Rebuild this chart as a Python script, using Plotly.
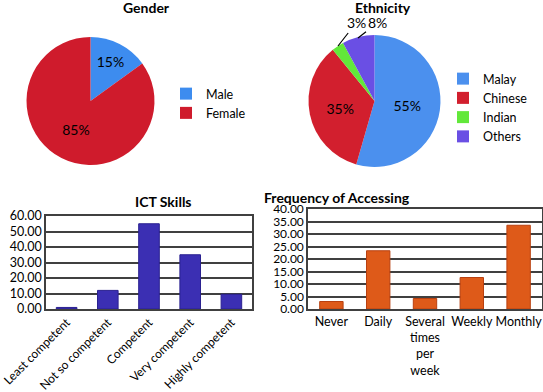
import plotly.graph_objects as go

W, H = 543, 392

gender_labels = ["Male", "Female"]
gender_values = [15, 85]
gender_colors = ["#3d8cef", "#cf1b2c"]

eth_labels = ["Malay", "Chinese", "Indian", "Others"]
eth_values = [55, 35, 3, 8]
eth_colors = ["#4b90ee", "#d21f2e", "#62e83a", "#6a4fe4"]

ict_cats = ["Least competent", "Not so competent", "Competent", "Very competent", "Highly competent"]
ict_values = [1.0, 12.0, 55.0, 35.0, 9.5]
ict_ticks = [0, 10, 20, 30, 40, 50, 60]

freq_cats = ["Never", "Daily", "Several<br>times<br>per<br>week", "Weekly", "Monthly"]
freq_values = [3.0, 23.3, 4.2, 12.6, 33.5]
freq_ticks = [0, 5, 10, 15, 20, 25, 30, 35, 40]

FONT = "Lato"

def px(x):
    return x / W

def py(y):
    return 1 - y / H

fig = go.Figure()

fig.add_trace(go.Pie(
    labels=gender_labels, values=gender_values, sort=False, direction="clockwise",
    marker=dict(colors=gender_colors, line=dict(width=0)),
    texttemplate="%{value}%", textposition="inside", insidetextorientation="horizontal",
    textfont=dict(family=FONT, size=14, color="black"),
    domain=dict(x=[px(26.5), px(154.5)], y=[py(165), py(37)]),
    legend="legend", hoverinfo="label+value", automargin=False,
))

# small slices are labelled with callouts below, like the reference
eth_text = [f"{v}%" if v >= 10 else "" for v in eth_values]
fig.add_trace(go.Pie(
    labels=eth_labels, values=eth_values, sort=False, direction="clockwise",
    marker=dict(colors=eth_colors, line=dict(width=0)),
    text=eth_text, texttemplate="%{text}", textposition="inside",
    insidetextorientation="horizontal",
    textfont=dict(family=FONT, size=14, color="black"),
    domain=dict(x=[px(308.5), px(440.5)], y=[py(167), py(35)]),
    legend="legend2", hoverinfo="label+value", automargin=False,
))

fig.add_trace(go.Bar(
    x=ict_cats, y=ict_values, xaxis="x", yaxis="y",
    marker=dict(color="#3b2fb3", line=dict(color="#2a2190", width=1)),
    showlegend=False,
))

fig.add_trace(go.Bar(
    x=freq_cats, y=freq_values, xaxis="x2", yaxis="y2",
    marker=dict(color="#de5a19", line=dict(color="#b84010", width=1)),
    showlegend=False,
))

axis_common = dict(showline=True, linecolor="#404040", linewidth=1.5, mirror=True,
                   ticks="", automargin=False)
ytick_font = dict(family=FONT, size=12.5, color="black")

fig.update_layout(
    width=W, height=H, margin=dict(l=0, r=0, t=0, b=0, autoexpand=False),
    paper_bgcolor="white", plot_bgcolor="white",
    bargap=0.5,
    xaxis=dict(domain=[px(46), px(252)], anchor="y", tickangle=-45, showgrid=False,
               tickfont=dict(family=FONT, size=12, color="black"), **axis_common),
    yaxis=dict(domain=[py(309), py(216)], anchor="x", range=[0, 60], tickvals=ict_ticks,
               tickformat=".2f", showgrid=True, gridcolor="#404040", gridwidth=1.5,
               zeroline=False, tickfont=ytick_font, **axis_common),
    xaxis2=dict(domain=[px(308), px(542)], anchor="y2", tickangle=0, showgrid=False,
                tickfont=ytick_font, **axis_common),
    yaxis2=dict(domain=[py(309), py(209)], anchor="x2", range=[0, 40], tickvals=freq_ticks,
                tickformat=".2f", showgrid=True, gridcolor="#404040", gridwidth=1.5,
                zeroline=False, tickfont=dict(family=FONT, size=12, color="black"),
                **axis_common),
    legend=dict(x=px(166), y=py(79), xanchor="left", yanchor="top",
                font=dict(family=FONT, size=12.5, color="black"), itemwidth=30,
                tracegroupgap=0, bgcolor="rgba(0,0,0,0)"),
    legend2=dict(x=px(443), y=py(64), xanchor="left", yanchor="top",
                 font=dict(family=FONT, size=12.5, color="black"), itemwidth=30,
                 tracegroupgap=0, bgcolor="rgba(0,0,0,0)"),
    annotations=[
        dict(text="<b>Gender</b>", x=px(121), y=py(7), xref="paper", yref="paper",
             showarrow=False, font=dict(family=FONT, size=14, color="black"), yanchor="middle"),
        dict(text="<b>Ethnicity</b>", x=px(413), y=py(7), xref="paper", yref="paper",
             showarrow=False, font=dict(family=FONT, size=14, color="black"), yanchor="middle"),
        dict(text="<b>ICT Skills</b>", x=px(133), y=py(202), xref="paper", yref="paper",
             showarrow=False, font=dict(family=FONT, size=14, color="black"), yanchor="middle"),
        dict(text="<b>Frequency of Accessing</b>", x=px(412), y=py(198), xref="paper", yref="paper",
             showarrow=False, font=dict(family=FONT, size=14, color="black"), yanchor="middle"),
        dict(text=f"{eth_values[2]}%", x=px(338), y=py(46), xref="paper", yref="paper",
             ax=18, ay=-23, showarrow=True, arrowhead=0, arrowwidth=1.2, arrowcolor="black",
             font=dict(family=FONT, size=14, color="black")),
        dict(text=f"{eth_values[3]}%", x=px(358), y=py(38), xref="paper", yref="paper",
             ax=19, ay=-15, showarrow=True, arrowhead=0, arrowwidth=1.2, arrowcolor="black",
             font=dict(family=FONT, size=14, color="black")),
    ],
)

fig.write_html("out.html", config=dict(displayModeBar=False),
               post_script="document.body.style.margin='0px';document.body.style.padding='0px';")
